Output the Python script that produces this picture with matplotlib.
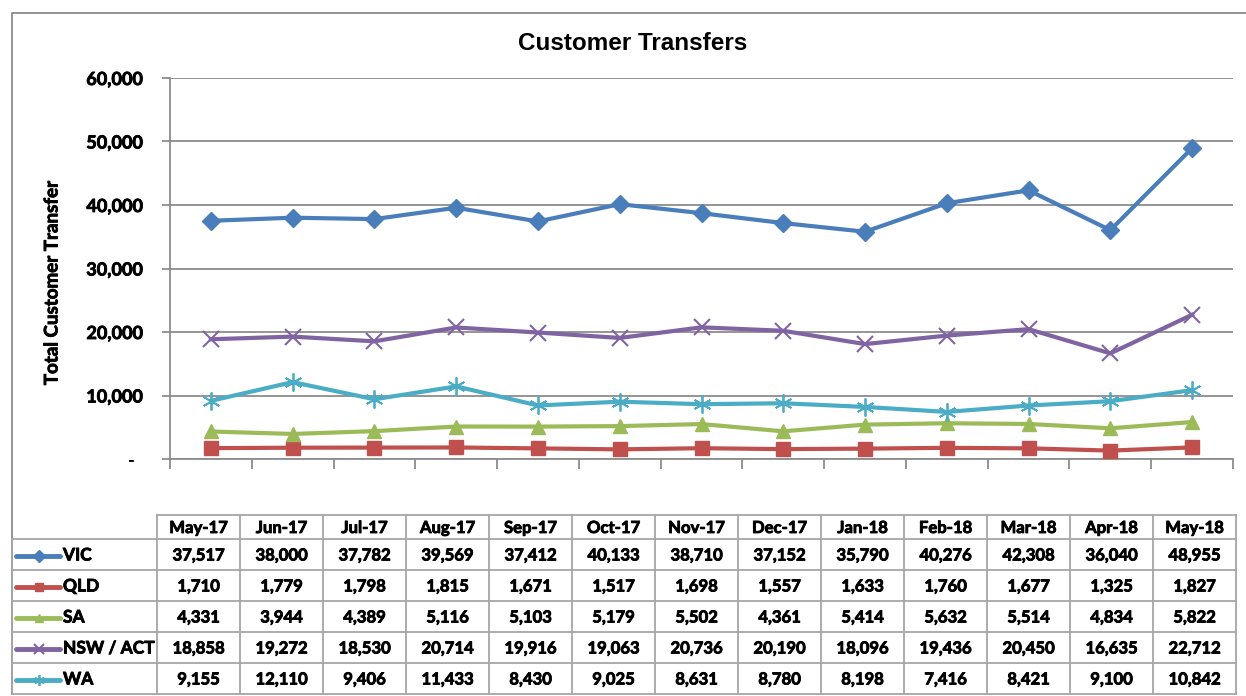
import matplotlib
matplotlib.use("Agg")
import matplotlib.pyplot as plt
import matplotlib.patheffects as pe
from matplotlib.ticker import FuncFormatter

months = ["May-17", "Jun-17", "Jul-17", "Aug-17", "Sep-17", "Oct-17", "Nov-17",
          "Dec-17", "Jan-18", "Feb-18", "Mar-18", "Apr-18", "May-18"]
vic = [37517, 38000, 37782, 39569, 37412, 40133, 38710, 37152, 35790, 40276, 42308, 36040, 48955]
qld = [1710, 1779, 1798, 1815, 1671, 1517, 1698, 1557, 1633, 1760, 1677, 1325, 1827]
sa = [4331, 3944, 4389, 5116, 5103, 5179, 5502, 4361, 5414, 5632, 5514, 4834, 5822]
nsw = [18858, 19272, 18530, 20714, 19916, 19063, 20736, 20190, 18096, 19436, 20450, 16635, 22712]
wa = [9155, 12110, 9406, 11433, 8430, 9025, 8631, 8780, 8198, 7416, 8421, 9100, 10842]
series_names = ["VIC", "QLD", "SA", "NSW / ACT", "WA"]
series_values = [vic, qld, sa, nsw, wa]
yticks = [0, 10000, 20000, 30000, 40000, 50000, 60000]

colors = ["#4A7EBB", "#C0504D", "#9BBB59", "#8064A2", "#4BACC6"]
markers = ["D", "s", "^", "x", (6, 2, 0)]
msizes = [9.5, 10, 10.5, 11, 13]
mews = [1, 1, 1, 1.5, 1.3]

W, H = 1246, 696
FONT = ["Lato", "DejaVu Sans"]
WT = "bold"
THICK = [pe.withStroke(linewidth=0.6, foreground="black")]
fig = plt.figure(figsize=(W / 100, H / 100), dpi=100)

# overlay in pixel coordinates for frame and table
ov = fig.add_axes([0, 0, 1, 1])
ov.set_xlim(0, W)
ov.set_ylim(H, 0)
ov.axis("off")
ov.patch.set_alpha(0)

grid_gray = "#8C8C8C"
tab_gray = "#A6A6A6"

# outer border
ov.plot([12, 12, W + 5], [694, 13, 13], color=grid_gray, lw=1.3, clip_on=False)

# main axes
L, R, T, B = 170, 1233, 78, 459
ax = fig.add_axes([L / W, (H - B) / H, (R - L) / W, (B - T) / H])
ax.patch.set_alpha(0)
x = list(range(len(months)))
for name, vals, c, m, ms, mew in zip(series_names, series_values, colors, markers, msizes, mews):
    ax.plot(x, vals, color=c, lw=3, marker=m, ms=ms, mec=c, mfc=c, mew=mew,
            solid_joinstyle="round", zorder=3)

ax.set_xlim(-0.5, len(months) - 0.5)
ax.set_ylim(0, 60000)
ax.set_yticks(yticks)
ax.yaxis.set_major_formatter(FuncFormatter(lambda v, p: "-  " if v == 0 else f"{int(v):,}"))
ax.set_xticks([i - 0.5 for i in range(len(months) + 1)])
ax.set_xticklabels([])
ax.tick_params(axis="x", length=7, width=1.3, color=grid_gray, direction="out")
ax.tick_params(axis="y", length=6, width=1.3, color=grid_gray, direction="out", pad=13.5)
for lab in ax.get_yticklabels():
    lab.set_fontfamily(FONT)
    lab.set_fontweight(WT)
    lab.set_fontsize(13)
    lab.set_path_effects(THICK)
ax.grid(axis="y", color=grid_gray, lw=1.3, zorder=0)
ax.spines["top"].set_visible(False)
ax.spines["right"].set_visible(False)
ax.spines["left"].set_color(grid_gray)
ax.spines["bottom"].set_color(grid_gray)
ax.spines["left"].set_linewidth(1.3)
ax.spines["bottom"].set_linewidth(1.3)

fig.text(633 / W, 1 - 44 / H, "Customer Transfers", ha="center", va="center",
         fontsize=17.5, fontweight="bold", family=["Liberation Sans", "DejaVu Sans"])
fig.text(52 / W, 1 - 283 / H, "Total Customer Transfer", ha="center", va="center",
         rotation=90, fontsize=13.5, fontweight=WT, family=FONT, path_effects=THICK)

# data table
x0, xc0, cw = 12, 157, 83
xend = xc0 + cw * len(months)
row_tops = [515, 539, 570, 601, 632, 663, 694]
# horizontal lines
ov.plot([xc0, xend], [row_tops[0]] * 2, color=tab_gray, lw=1.3)
for yy in row_tops[1:]:
    ov.plot([x0, xend], [yy, yy], color=tab_gray, lw=1.3)
# vertical lines
ov.plot([x0, x0], [row_tops[1], row_tops[-1]], color=tab_gray, lw=1.3)
for i in range(len(months) + 1):
    xx = xc0 + cw * i
    ov.plot([xx, xx], [row_tops[0], row_tops[-1]], color=tab_gray, lw=1.3)

tfs = 12
for i, mth in enumerate(months):
    ov.text(xc0 + cw * (i + 0.5), (row_tops[0] + row_tops[1]) / 2 + 1, mth,
            ha="center", va="center", fontsize=tfs, fontweight=WT, family=FONT,
            path_effects=THICK)
for r, (name, vals, c, m, ms, mew) in enumerate(zip(series_names, series_values, colors, markers, msizes, mews)):
    yc = (row_tops[r + 1] + row_tops[r + 2]) / 2 + 1
    ov.plot([16, 60], [yc, yc], color=c, lw=3.5, solid_capstyle="round")
    ov.plot([39], [yc], marker=m, ms=ms * 0.6, color=c, mec=c, mew=mew)
    ov.text(63, yc, name, ha="left", va="center", fontsize=12.5,
            fontweight=WT, family=FONT, path_effects=THICK)
    for i, v in enumerate(vals):
        ov.text(xc0 + cw * (i + 0.5), yc, f"{v:,}", ha="center", va="center",
                fontsize=tfs, fontweight=WT, family=FONT, path_effects=THICK)

fig.savefig("out.png", dpi=100)
